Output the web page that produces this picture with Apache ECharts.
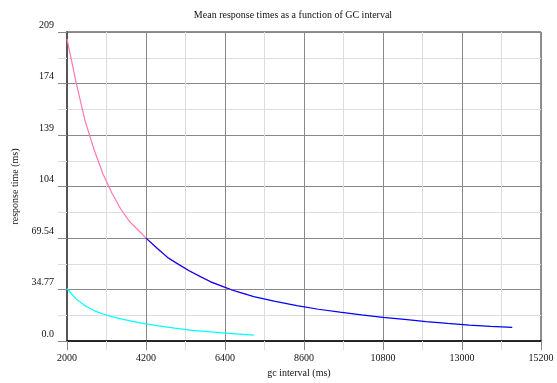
<!DOCTYPE html>
<html><head><meta charset="utf-8">
<script src="https://cdn.jsdelivr.net/npm/echarts@6/dist/echarts.min.js"></script>
<style>html,body{margin:0;padding:0;background:#fff}#c{width:557px;height:383px}</style>
</head><body><div id="c"></div>
<script>
var xMin = 2000, xMax = 15200, xStep = 2200;
var yTickLabels = ['0.0', '34.77', '69.54', '104', '139', '174', '209'];
var yStep = 34.77;

var pinkX = [2000, 2250, 2500, 2750, 3000, 3250, 3500, 3750, 4000, 4200, 4500, 4800, 5100, 5400, 5700, 6000, 6400, 6700, 7000];
var pinkY = [204, 175, 149, 129.5, 113, 100, 89, 80.5, 74.5, 69.5, 62.5, 56.5, 51.5, 47.5, 43.5, 40, 36.2, 33.5, 31.5];

var blueX = [4200, 4800, 5400, 6000, 6600, 7200, 7800, 8400, 9000, 9600, 10200, 10800, 11400, 12000, 12600, 13200, 13800, 14400];
var blueY = [69.5, 56.5, 47.5, 40, 34.5, 30, 26.8, 24, 21.5, 19.5, 17.7, 16, 14.6, 13.2, 11.9, 10.8, 9.9, 9.2];

var cyanX = [2000, 2250, 2500, 2750, 3000, 3250, 3500, 4000, 4500, 5000, 5500, 6000, 6500, 7200];
var cyanY = [35.5, 28.5, 23.8, 20.6, 18.3, 16.5, 15, 12.5, 10.4, 8.7, 7.3, 6.2, 5.2, 4.0];

function pairs(xs, ys) { return xs.map(function (x, i) { return [x - xMin, ys[i]]; }); }

var font = 'Liberation Serif';
var chart = echarts.init(document.getElementById('c'));
chart.setOption({
  animation: false,
  backgroundColor: '#fff',
  title: {
    text: 'Mean response times as a function of GC interval',
    left: 288, top: 5, textAlign: 'center',
    textStyle: { fontFamily: font, fontSize: 10, fontWeight: 'normal', color: '#111' }
  },
  grid: { left: 67, right: 16, top: 32, bottom: 40, show: true, borderColor: '#222', borderWidth: 1 },
  xAxis: {
    type: 'value', min: 0, max: xMax - xMin, interval: xStep,
    name: 'gc interval (ms)', nameLocation: 'middle', nameGap: 24,
    nameTextStyle: { fontFamily: font, fontSize: 10, color: '#111', padding: [0, 10, 0, 0] },
    axisLine: { show: true, lineStyle: { color: '#000', width: 1.5 } },
    axisTick: { show: true, inside: false, length: 9, lineStyle: { color: '#888' } },
    minorTick: { show: true, splitNumber: 2, length: 9, lineStyle: { color: '#ddd' } },
    splitLine: { show: true, lineStyle: { color: '#888', width: 1 } },
    minorSplitLine: { show: true, lineStyle: { color: '#ddd', width: 1 } },
    axisLabel: { margin: 12, fontFamily: font, fontSize: 10, color: '#111',
      formatter: function (v) { return String(Math.round(v + xMin)); } }
  },
  yAxis: {
    type: 'value', min: 0, max: yStep * 6, interval: yStep,
    name: 'response time (ms)', nameLocation: 'middle', nameGap: 46, nameRotate: 90,
    nameTextStyle: { fontFamily: font, fontSize: 10, color: '#111' },
    axisLine: { show: true, lineStyle: { color: '#555', width: 2 } },
    axisTick: { show: true, inside: false, length: 9, lineStyle: { color: '#888' } },
    minorTick: { show: true, splitNumber: 2, length: 9, lineStyle: { color: '#ddd' } },
    splitLine: { show: true, lineStyle: { color: '#888', width: 1 } },
    minorSplitLine: { show: true, lineStyle: { color: '#ddd', width: 1 } },
    axisLabel: { margin: 13, fontFamily: font, fontSize: 10, color: '#111',
      verticalAlign: 'bottom', padding: [0, 0, 2, 0],
      formatter: function (v) { return yTickLabels[Math.round(v / yStep)] || ''; } }
  },
  series: [
    { type: 'line', data: pairs(pinkX, pinkY), showSymbol: false, symbol: 'none',
      lineStyle: { color: '#ff77b4', width: 1.2 }, z: 2 },
    { type: 'line', data: pairs(cyanX, cyanY), showSymbol: false, symbol: 'none',
      lineStyle: { color: '#00ffff', width: 1.2 }, z: 3 },
    { type: 'line', data: pairs(blueX, blueY), showSymbol: false, symbol: 'none',
      lineStyle: { color: '#0000ff', width: 1.2 }, z: 4 }
  ]
});
</script></body></html>
